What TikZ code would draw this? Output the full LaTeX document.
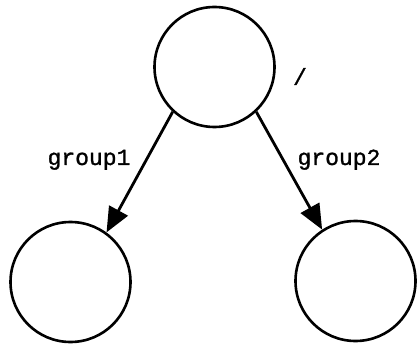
\documentclass[tikz,border=0pt]{standalone}
\usepackage{fontspec}
\newfontfamily\monofont[FakeBold=1.2]{Liberation Mono}
\usetikzlibrary{arrows.meta}
\begin{document}
\begin{tikzpicture}[x=1pt,y=-1pt,
  vtx/.style={circle,draw=black,line width=2.6pt,minimum size=120pt,inner sep=0pt},
  edge/.style={line width=2.8pt,-{Triangle[length=25pt,width=21pt]}},
  lbl/.style={font=\monofont\fontsize{23}{23}\selectfont,inner sep=0pt}]
\useasboundingbox (0,0) rectangle (417,347);
\node[vtx] (root) at (214.5,67) {};
\node[vtx] (left) at (70.5,282) {};
\node[vtx] (right) at (355.5,281) {};
\node[lbl] (slash) at (300,76.5) {/};
\draw[edge] (root.227) -- (left.54);
\draw[edge] (root.313) -- (right.123);
\node[lbl,anchor=base] (g1) at (89,165) {group1};
\node[lbl,anchor=base] (g2) at (339,165) {group2};
\end{tikzpicture}
\end{document}
